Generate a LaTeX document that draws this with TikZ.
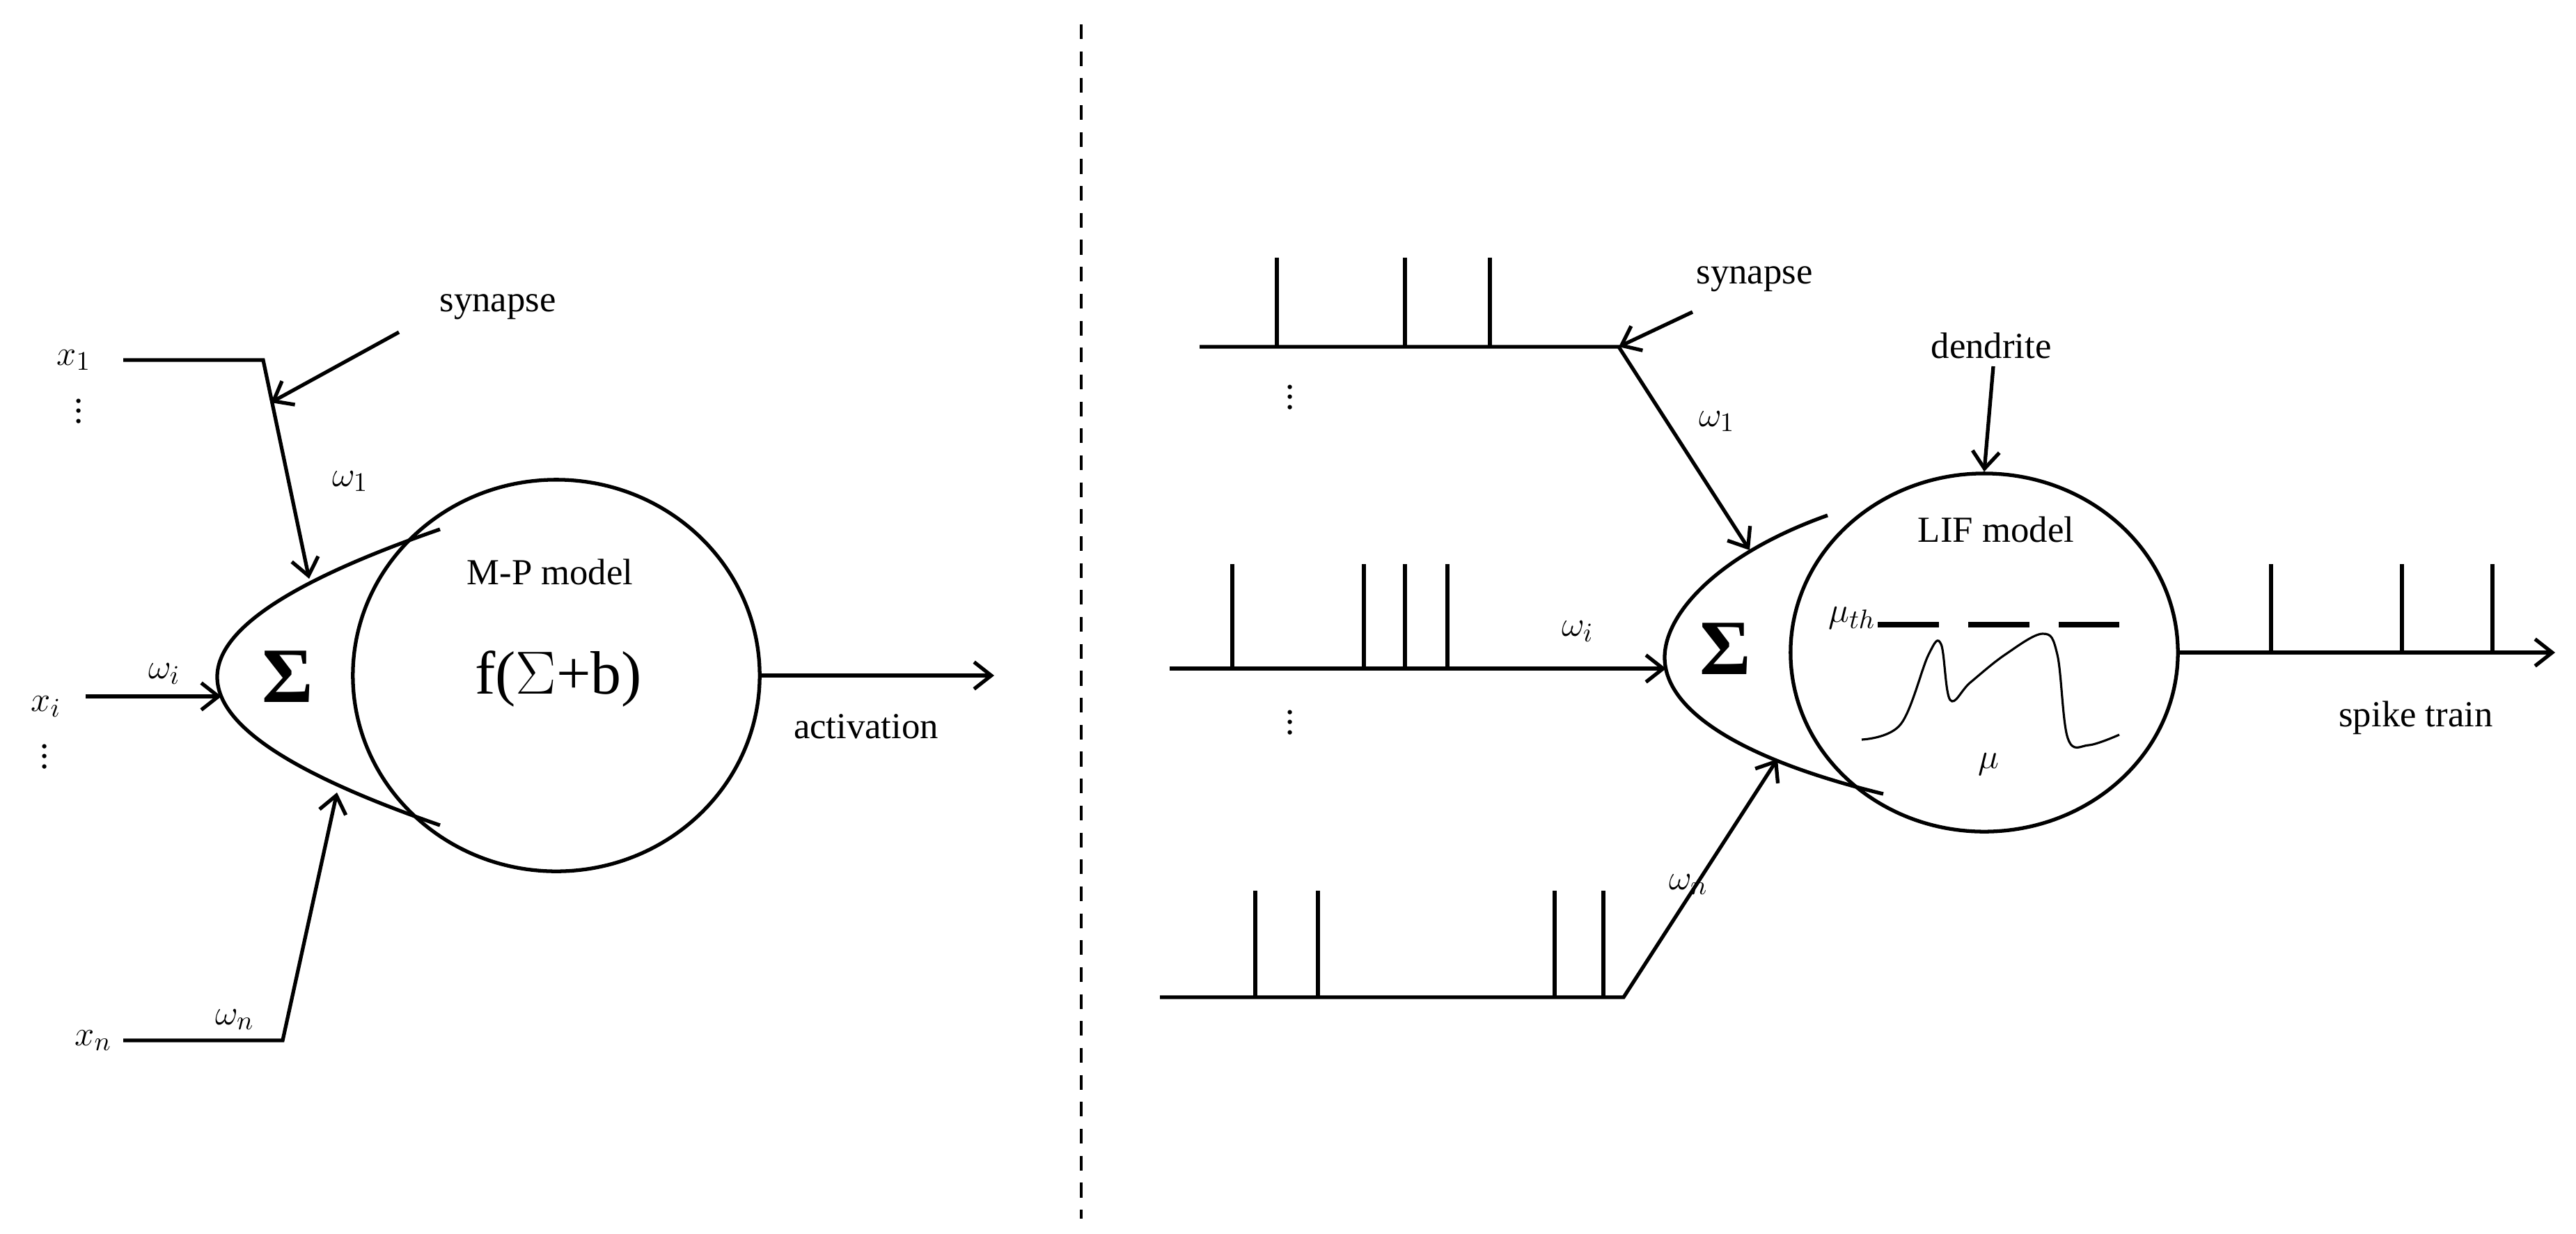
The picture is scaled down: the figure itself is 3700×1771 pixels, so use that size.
\documentclass[tikz,border=0pt]{standalone}
\usepackage{fontspec}
\setmainfont{Liberation Serif}
\usetikzlibrary{shapes.geometric,arrows.meta}
\begin{document}
\begin{tikzpicture}[x=0.01cm,y=-0.01cm,
  ln/.style={line width=1.5pt},
  ar/.style={ln,-{Straight Barb[length=7pt,width=11pt,line width=1.5pt]}},
  lab/.style={font=\fontsize{15}{17}\selectfont,inner sep=0pt},
  sig/.style={font=\fontsize{32}{32}\selectfont\bfseries,inner sep=0pt},
  cell/.style={ellipse,draw,line width=1.5pt,inner sep=0pt}]
\useasboundingbox (0,0) rectangle (3700,1771);
% divider
\draw[line width=1.2pt,dash pattern=on 6pt off 5pt] (1553,35) coordinate(d1) -- (1553,1750) coordinate(d2);
% ===== left =====
\node[cell,minimum width=5.84cm,minimum height=5.62cm] (mp) at (799,970) {};
\draw[ln] (632,760) .. controls (430,830) and (312,900) .. (312,972) .. controls (312,1045) and (430,1115) .. (632,1185);
\node[sig] (s1) at (413,972) {Σ};
\node[lab] (mpl) at (790,821) {M-P model};
\node[font=\fontsize{25}{28}\selectfont] (f) at (802,975) {f($\Sigma$+b)};
\node[lab] (x1) at (106,517) {$x_1$};
\node[lab] (xi) at (66,1015) {$x_i$};
\node[lab] (xn) at (134,1494) {$x_n$};
\node[lab] at (113,580) {$\vdots$};
\node[lab] at (64,1076) {$\vdots$};
\coordinate (a1) at (177,517); \coordinate (b1) at (378,517); \coordinate (e1) at (444,831);
\draw[ar] (a1) -- (b1) -- (e1);
\coordinate (ss) at (573,477); \coordinate (se) at (389,578);
\draw[ar] (ss) -- (se);
\node[lab] (syn1) at (715,441) {synapse};
\node[lab] (w1) at (503,691) {$\omega_1$};
\coordinate (ai) at (123,1000); \coordinate (ei) at (318,1000);
\draw[ar] (ai) -- (ei);
\node[lab] (wi) at (236,968) {$\omega_i$};
\coordinate (an) at (177,1494); \coordinate (bn) at (406,1494); \coordinate (en) at (484,1138);
\draw[ar] (an) -- (bn) -- (en);
\node[lab] (wn) at (337,1464) {$\omega_n$};
\coordinate (oe) at (1428,970);
\draw[ar] (mp.east) -- (oe);
\node[lab] (act) at (1244,1043) {activation};
% ===== right =====
\node[cell,minimum width=5.56cm,minimum height=5.14cm] (lif) at (2850,937) {};
\draw[ln] (2625,740) .. controls (2470,795) and (2391,880) .. (2391,944) .. controls (2391,1020) and (2500,1090) .. (2705,1140);
\node[sig] (s2) at (2478,932) {Σ};
\node[lab] (lifl) at (2867,760) {LIF model};
\node[lab] (mth) at (2660,887) {$\mu_{th}$};
\draw[line width=2.2pt] (2697,897) -- (2785,897) (2827,897) -- (2915,897) (2957,897) -- (3044,897);
\draw[line width=0.9pt] plot[smooth,tension=0.6] coordinates {(2674,1062) (2730,1040) (2770,940) (2788,925) (2801,1005) (2830,980) (2880,940) (2934,910) (2955,940) (2970,1060) (3000,1070) (3044,1055)};
\node[lab] (mu) at (2856,1097) {$\mu$};
\node[lab] (den) at (2860,496) {dendrite};
\coordinate (ds) at (2863,526);
\draw[ar] (ds) -- (lif.north);
% train 1
\coordinate (t1a) at (1723,498); \coordinate (t1b) at (2325,498); \coordinate (t1e) at (2513,790);
\draw[ar] (t1a) -- (t1b) -- (t1e);
\foreach \x in {1834,2018,2140} \draw[ln] (\x,498) -- (\x,370);
\coordinate (ss2) at (2431,448);
\draw[ar] (ss2) -- (t1b);
\node[lab] (syn2) at (2520,401) {synapse};
\node[lab] (w12) at (2466,605) {$\omega_1$};
\node[lab] at (1853,560) {$\vdots$};
% train 2
\coordinate (t2a) at (1680,960); \coordinate (t2e) at (2393,960);
\draw[ar] (t2a) -- (t2e);
\foreach \x in {1770,1959,2018,2079} \draw[ln] (\x,960) -- (\x,810);
\node[lab] (wi2) at (2266,907) {$\omega_i$};
\node[lab] at (1853,1027) {$\vdots$};
% train 3
\coordinate (t3a) at (1666,1432); \coordinate (t3b) at (2332,1432); \coordinate (t3e) at (2553,1090);
\draw[ar] (t3a) -- (t3b) -- (t3e);
\foreach \x in {1803,1893,2233,2303} \draw[ln] (\x,1432) -- (\x,1279);
\node[lab] (wn2) at (2425,1270) {$\omega_n$};
% output
\coordinate (oe2) at (3670,937);
\draw[ar] (lif.east) -- (oe2);
\foreach \x in {3262,3450,3580} \draw[ln] (\x,937) -- (\x,810);
\node[lab] (st) at (3470,1031) {spike train};
\end{tikzpicture}
\end{document}
